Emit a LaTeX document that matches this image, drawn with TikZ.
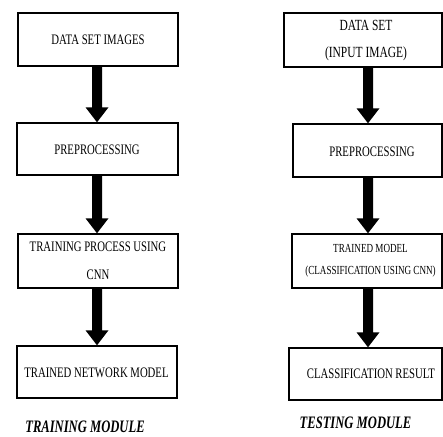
\documentclass[tikz,border=0pt]{standalone}
\usepackage{fontspec}
\setmainfont[FakeStretch=0.74]{Liberation Serif}
\newfontfamily\modfont[FakeStretch=0.72]{Liberation Serif}
\usetikzlibrary{calc}

\tikzset{
  stagebox/.style={draw=black, line width=1.4pt, inner sep=0pt},
  stagetext/.style={inner sep=0pt, align=center, text=black,
    font=\fontsize{14.5}{28}\selectfont},
  smalltext/.style={stagetext, font=\fontsize{12.3}{22}\selectfont},
  flowarrow/.style={fill=black, draw=none},
  modlabel/.style={inner sep=0pt, font=\modfont\fontsize{17.5}{20}\selectfont\bfseries\itshape}
}

% block arrow from the bottom of one box to the top of the next
\newcommand\blockarrow[2]{%
  \path[flowarrow] let \p1=(#1), \p2=(#2) in
    (\x1-5,\y1) -- (\x1+5,\y1) -- (\x1+5,\y2+15) -- (\x1+11.5,\y2+15)
    -- (\x1,\y2) -- (\x1-11.5,\y2+15) -- (\x1-5,\y2+15) -- cycle;}

\begin{document}
\begin{tikzpicture}[x=1pt,y=1pt]
  \useasboundingbox (0,0) rectangle (443,-436);

  % column axes for the arrows
  \coordinate (laxis) at (97,0);
  \coordinate (raxis) at (368,0);

  % ---- training column ----
  \node[stagebox, minimum width=160pt, minimum height=53pt] (l1) at (98,-39.5) {};
  \node[stagebox, minimum width=161pt, minimum height=52pt] (l2) at (97.5,-149) {};
  \node[stagebox, minimum width=160pt, minimum height=54pt] (l3) at (98,-261) {};
  \node[stagebox, minimum width=160pt, minimum height=52pt] (l4) at (97,-372) {};

  \node[stagetext] (lt1) at (98,-40) {DATA SET IMAGES};
  \node[stagetext] (lt2) at (97,-150) {PREPROCESSING};
  \node[stagetext] (lt3) at (98,-261) {TRAINING PROCESS USING\\CNN};
  \node[stagetext] (lt4) at (96.5,-373) {TRAINED NETWORK MODEL};

  \blockarrow{l1.south -| laxis}{l2.north -| laxis}
  \blockarrow{l2.south -| laxis}{l3.north -| laxis}
  \blockarrow{l3.south -| laxis}{l4.north -| laxis}

  \node[modlabel] (lm) at (85,-427) {TRAINING MODULE};

  % ---- testing column ----
  \node[stagebox, minimum width=158pt, minimum height=54pt] (r1) at (363,-40) {};
  \node[stagebox, minimum width=149pt, minimum height=53pt] (r2) at (367.5,-150.5) {};
  \node[stagebox, minimum width=150pt, minimum height=54pt] (r3) at (367,-261) {};
  \node[stagebox, minimum width=153pt, minimum height=52pt] (r4) at (365.5,-374) {};

  \node[stagetext, font=\fontsize{15.5}{27}\selectfont] (rt1) at (366,-40.5) {DATA SET\\(INPUT IMAGE)};
  \node[stagetext] (rt2) at (372,-152) {PREPROCESSING};
  \node[smalltext] (rt3) at (370.5,-261) {TRAINED MODEL\\(CLASSIFICATION USING CNN)};
  \node[stagetext] (rt4) at (371,-374) {CLASSIFICATION RESULT};

  \blockarrow{r1.south -| raxis}{r2.north -| raxis}
  \blockarrow{r2.south -| raxis}{r3.north -| raxis}
  \blockarrow{r3.south -| raxis}{r4.north -| raxis}

  \node[modlabel] (rm) at (355.5,-423) {TESTING MODULE};
\end{tikzpicture}
\end{document}
